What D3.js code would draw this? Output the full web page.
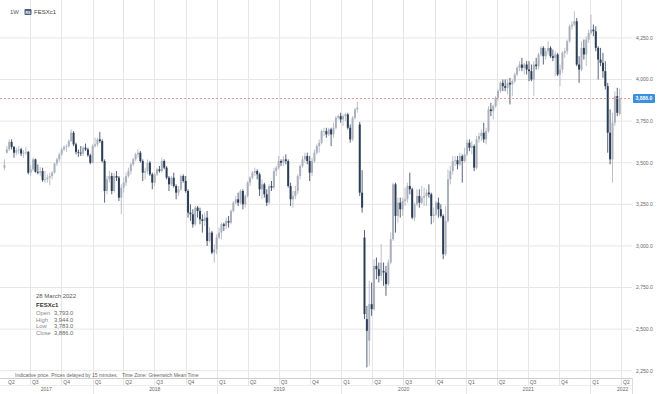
<!DOCTYPE html>
<html>
<head>
<meta charset="utf-8">
<script src="https://cdn.jsdelivr.net/npm/d3@7"></script>
<style>
  body { margin: 0; background: #fff; }
  text { font-family: "Liberation Sans", Arial, sans-serif; }
</style>
</head>
<body>
<div id="chart"></div>
<script>
// weekly candles FESXc1, one row per month (weeks start on Monday, first week 17 Apr 2017)
var opens = [
  3470, 3560,
  3580, 3625, 3595, 3560, 3575,
  3580, 3555, 3560, 3565,
  3440, 3460, 3520, 3445, 3440,
  3450, 3395, 3400, 3410,
  3420, 3440, 3495, 3520,
  3550, 3580, 3595, 3600, 3630,
  3680, 3610, 3565, 3560,
  3555, 3590, 3580, 3545,
  // 2018
  3500, 3600, 3610, 3640, 3630,
  3510, 3330, 3400, 3420,
  3330, 3420, 3410, 3290,
  3350, 3380, 3420, 3450, 3490,
  3520, 3550, 3560, 3510,
  3440, 3450, 3500, 3430,
  3380, 3430, 3460, 3450, 3510,
  3470, 3410, 3370, 3410,
  3360, 3320, 3340, 3420,
  3390, 3330, 3200, 3190, 3130,
  3230, 3210, 3160, 3150,
  3170, 3030, 3080, 2960, 2980,
  // 2019
  3050, 3080, 3130, 3120,
  3150, 3140, 3210, 3260,
  3280, 3260, 3330, 3250,
  3300, 3380, 3410, 3440, 3450,
  3430, 3340, 3370, 3310,
  3260, 3360, 3350, 3450,
  3470, 3510, 3500, 3520, 3510,
  3360, 3280, 3300, 3330,
  3420, 3480, 3520, 3540, 3510,
  3440, 3510, 3560, 3600,
  3620, 3690, 3690, 3670,
  3700, 3670, 3710, 3770, 3780,
  // 2020
  3760, 3780, 3790, 3710,
  3640, 3770, 3820, 3730,
  3320, 3050, 2560, 2430, 2650,
  2620, 2880, 2860, 2820,
  2850, 2840, 2770, 2900,
  3040, 3370, 3180, 3260, 3220,
  3270, 3280, 3360, 3340,
  3170, 3250, 3300, 3260, 3290,
  3300, 3320, 3310, 3180,
  3190, 3260, 3220, 3180,
  2950, 3150, 3400, 3450, 3510,
  3515, 3490, 3540, 3510,
  // 2021
  3550, 3620, 3590, 3600,
  3470, 3640, 3660, 3680,
  3640, 3690, 3820, 3810, 3840,
  3890, 3930, 3980, 3960,
  3950, 3980, 3970, 3990, 4030,
  4070, 4090, 4070, 4090,
  4060, 4050, 4000, 4090,
  4080, 4150, 4190, 4140, 4170,
  4190, 4140, 4130, 4150,
  4030, 4060, 4160, 4170,
  4230, 4320, 4330, 4350, 4090,
  4060, 4190, 4150, 4240,
  // 2022
  4280, 4300, 4290, 4190, 4120,
  4100, 4050, 3960, 3680,
  3520, 3740, 3900, 3793
];
var highs = [
  3520, 3600,
  3640, 3640, 3600, 3590, 3600,
  3590, 3575, 3595, 3570,
  3485, 3530, 3525, 3490, 3475,
  3470, 3450, 3430, 3440,
  3450, 3500, 3530, 3560,
  3590, 3605, 3610, 3640, 3700,
  3690, 3620, 3580, 3600,
  3600, 3615, 3590, 3555,
  // 2018
  3610, 3650, 3650, 3685, 3640,
  3520, 3420, 3450, 3440,
  3440, 3450, 3420, 3370,
  3410, 3440, 3470, 3500, 3530,
  3560, 3580, 3570, 3520,
  3470, 3520, 3510, 3440,
  3440, 3470, 3480, 3530, 3520,
  3480, 3420, 3420, 3440,
  3370, 3360, 3430, 3430,
  3420, 3340, 3250, 3220, 3240,
  3240, 3230, 3190, 3200,
  3210, 3110, 3090, 3010, 3070,
  // 2019
  3110, 3140, 3140, 3170,
  3180, 3220, 3270, 3300,
  3320, 3340, 3340, 3310,
  3390, 3420, 3450, 3470, 3460,
  3440, 3400, 3380, 3340,
  3370, 3390, 3470, 3480,
  3540, 3520, 3540, 3550, 3520,
  3380, 3330, 3360, 3430,
  3490, 3540, 3560, 3560, 3540,
  3530, 3580, 3610, 3640,
  3700, 3710, 3710, 3710,
  3710, 3740, 3780, 3790, 3800,
  // 2020
  3790, 3800, 3800, 3730,
  3780, 3830, 3866, 3745,
  3455, 3095, 2640, 2790, 2780,
  2920, 2930, 2900, 3010,
  2900, 2880, 2920, 3080,
  3380, 3380, 3290, 3290, 3290,
  3350, 3380, 3440, 3350,
  3260, 3340, 3340, 3360, 3350,
  3340, 3370, 3320, 3230,
  3270, 3290, 3250, 3190,
  3240, 3460, 3480, 3540, 3540,
  3540, 3560, 3550, 3590,
  // 2021
  3640, 3640, 3630, 3610,
  3660, 3680, 3700, 3740,
  3710, 3840, 3860, 3850, 3900,
  3940, 3990, 4000, 4000,
  4000, 4010, 4000, 4040, 4080,
  4110, 4130, 4100, 4110,
  4110, 4090, 4110, 4130,
  4160, 4200, 4200, 4190, 4230,
  4200, 4180, 4170, 4160,
  4090, 4170, 4190, 4240,
  4330, 4350, 4410, 4370, 4140,
  4230, 4240, 4260, 4300,
  // 2022
  4390, 4330, 4320, 4200, 4190,
  4160, 4110, 3980, 3820,
  3800, 3930, 3950, 3944
];
var lows = [
  3455, 3555,
  3570, 3580, 3530, 3545, 3550,
  3540, 3530, 3545, 3430,
  3420, 3450, 3440, 3430, 3420,
  3385, 3380, 3380, 3365,
  3400, 3435, 3480, 3505,
  3540, 3570, 3565, 3590, 3625,
  3600, 3550, 3535, 3540,
  3540, 3570, 3535, 3490,
  // 2018
  3495, 3590, 3595, 3620, 3500,
  3260, 3310, 3380, 3310,
  3320, 3390, 3270, 3190,
  3320, 3360, 3410, 3430, 3480,
  3510, 3530, 3500, 3390,
  3400, 3430, 3420, 3340,
  3360, 3420, 3440, 3440, 3460,
  3400, 3330, 3360, 3350,
  3280, 3300, 3330, 3380,
  3320, 3170, 3150, 3110, 3120,
  3170, 3130, 3080, 3120,
  3000, 3020, 2950, 2900, 2950,
  // 2019
  3040, 3040, 3090, 3100,
  3110, 3130, 3200, 3250,
  3240, 3250, 3220, 3230,
  3290, 3360, 3400, 3420, 3400,
  3300, 3280, 3290, 3240,
  3250, 3330, 3340, 3420,
  3460, 3480, 3480, 3490, 3350,
  3240, 3230, 3280, 3310,
  3400, 3470, 3500, 3490, 3390,
  3420, 3500, 3550, 3560,
  3610, 3660, 3650, 3660,
  3600, 3650, 3700, 3760, 3740,
  // 2020
  3720, 3750, 3700, 3620,
  3630, 3760, 3800, 3300,
  3200, 2560, 2270, 2280, 2580,
  2610, 2800, 2780, 2790,
  2760, 2700, 2760, 2890,
  3030, 3080, 3140, 3170, 3180,
  3240, 3260, 3310, 3160,
  3150, 3240, 3230, 3250, 3240,
  3240, 3290, 3130, 3140,
  3180, 3170, 3170, 2920,
  2940, 3140, 3370, 3430, 3480,
  3460, 3480, 3380, 3500,
  // 2021
  3540, 3570, 3550, 3450,
  3460, 3620, 3630, 3620,
  3610, 3680, 3780, 3760, 3830,
  3870, 3920, 3930, 3930,
  3910, 3850, 3900, 3980, 4020,
  4050, 4050, 4030, 4030,
  3990, 3990, 3900, 4060,
  4060, 4140, 4090, 4120, 4150,
  4130, 4110, 4020, 4020,
  3960, 4040, 4130, 4150,
  4220, 4300, 4320, 4080, 3980,
  4050, 4120, 4080, 4220,
  // 2022
  4270, 4260, 4170, 4000, 4080,
  4010, 3940, 3560, 3490,
  3380, 3720, 3780, 3783
];
var closes = [
  3485, 3580,
  3625, 3595, 3560, 3575, 3580,
  3555, 3560, 3565, 3440,
  3460, 3520, 3445, 3440, 3450,
  3395, 3400, 3410, 3420,
  3440, 3495, 3520, 3550,
  3580, 3595, 3600, 3630, 3680,
  3610, 3565, 3560, 3555,
  3590, 3580, 3545, 3500,
  // 2018
  3600, 3610, 3640, 3630, 3510,
  3330, 3400, 3420, 3330,
  3420, 3410, 3290, 3350,
  3380, 3420, 3450, 3490, 3520,
  3550, 3560, 3510, 3440,
  3450, 3500, 3430, 3380,
  3430, 3460, 3450, 3510, 3470,
  3410, 3370, 3410, 3360,
  3320, 3340, 3420, 3390,
  3330, 3200, 3190, 3130, 3230,
  3210, 3160, 3150, 3170,
  3030, 3080, 2960, 2980, 3050,
  // 2019
  3080, 3130, 3120, 3150,
  3140, 3210, 3260, 3280,
  3260, 3330, 3250, 3300,
  3380, 3410, 3440, 3450, 3430,
  3340, 3370, 3310, 3260,
  3360, 3350, 3450, 3470,
  3510, 3500, 3520, 3510, 3360,
  3280, 3300, 3330, 3420,
  3480, 3520, 3540, 3510, 3440,
  3510, 3560, 3600, 3620,
  3690, 3690, 3670, 3700,
  3670, 3710, 3770, 3780, 3760,
  // 2020
  3780, 3790, 3710, 3640,
  3770, 3820, 3830, 3320,
  3230, 2590, 2490, 2650, 2620,
  2880, 2860, 2820, 2900,
  2840, 2770, 2900, 3040,
  3370, 3180, 3260, 3220, 3270,
  3280, 3360, 3340, 3170,
  3250, 3300, 3260, 3290, 3300,
  3320, 3310, 3180, 3190,
  3260, 3220, 3180, 2950,
  3150, 3400, 3450, 3510, 3515,
  3490, 3540, 3510, 3550,
  // 2021
  3620, 3590, 3600, 3470,
  3640, 3660, 3680, 3640,
  3690, 3820, 3810, 3840, 3890,
  3930, 3980, 3960, 3950,
  3980, 3970, 3990, 4030, 4070,
  4090, 4070, 4090, 4060,
  4050, 4000, 4090, 4080,
  4150, 4190, 4140, 4170, 4190,
  4140, 4130, 4150, 4030,
  4060, 4160, 4170, 4230,
  4320, 4330, 4350, 4090, 4060,
  4190, 4150, 4240, 4280,
  // 2022
  4300, 4290, 4190, 4120, 4100,
  4050, 3960, 3680, 3520,
  3740, 3900, 3800, 3886
];

var yTicks = [2250, 2500, 2750, 3000, 3250, 3500, 3750, 4000, 4250];
var lastPrice = 3886;
var infoRows = [["Open", "3,793.0"], ["High", "3,944.0"], ["Low", "3,783.0"], ["Close", "3,886.0"]];

// dimensions
var width = 660, height = 394;
var plotRight = 632, axisTop = 378, yearTop = 385;

var svg = d3.select("#chart").append("svg")
  .attr("width", width)
  .attr("height", height);

var x = d3.scaleUtc()
  .domain([new Date(Date.UTC(2017, 3, 1)), new Date(Date.UTC(2022, 3, 1))])
  .range([-1, 621]);
var y = d3.scaleLinear().domain([2250, 4250]).range([370.7, 37.9]);

var weeks = d3.utcMonday.range(new Date(Date.UTC(2017, 3, 17)), new Date(Date.UTC(2022, 3, 1)));
var candles = weeks.slice(0, closes.length).map(function(d, i) {
  return {date: d, o: opens[i], h: highs[i], l: lows[i], c: closes[i]};
});

// horizontal grid
svg.append("g").selectAll("line").data(yTicks).join("line")
  .attr("x1", 0).attr("x2", plotRight)
  .attr("y1", function(d) { return y(d); }).attr("y2", function(d) { return y(d); })
  .attr("stroke", "#e6e6e6").attr("stroke-width", 1);

// quarter grid (also splits the quarter row of the axis)
var quarters = d3.utcMonth.every(3).range(new Date(Date.UTC(2017, 3, 1)), new Date(Date.UTC(2022, 3, 2)));
svg.append("g").selectAll("line").data(quarters).join("line")
  .attr("x1", function(d) { return Math.round(x(d)) + 0.5; })
  .attr("x2", function(d) { return Math.round(x(d)) + 0.5; })
  .attr("y1", 0).attr("y2", yearTop)
  .attr("stroke", "#e6e6e6");

// axis frame lines
svg.append("line").attr("x1", 0).attr("x2", plotRight).attr("y1", axisTop + 0.5).attr("y2", axisTop + 0.5)
  .attr("stroke", "#cfcfcf");
svg.append("line").attr("x1", 0).attr("x2", plotRight).attr("y1", yearTop + 0.5).attr("y2", yearTop + 0.5)
  .attr("stroke", "#ececec");
svg.append("line").attr("x1", plotRight + 0.5).attr("x2", plotRight + 0.5).attr("y1", axisTop).attr("y2", height)
  .attr("stroke", "#dcdcdc");

// year separators in the bottom row
var years = d3.utcYear.range(new Date(Date.UTC(2018, 0, 1)), new Date(Date.UTC(2022, 0, 2)));
svg.append("g").selectAll("line").data(years).join("line")
  .attr("x1", function(d) { return Math.round(x(d)) + 0.5; })
  .attr("x2", function(d) { return Math.round(x(d)) + 0.5; })
  .attr("y1", yearTop).attr("y2", height)
  .attr("stroke", "#e6e6e6");

// quarter labels
svg.append("g").selectAll("text").data(quarters).join("text")
  .attr("x", function(d) { return x(d) < 5 ? 8 : x(d) + 2; })
  .attr("y", 383.8)
  .attr("font-size", "5px")
  .attr("fill", "#666")
  .text(function(d) { return "Q" + (Math.floor(d.getUTCMonth() / 3) + 1); });

// year labels, centred in the visible part of each year
var yearStarts = d3.utcYear.range(new Date(Date.UTC(2017, 0, 1)), new Date(Date.UTC(2023, 0, 1)));
svg.append("g").selectAll("text").data(yearStarts).join("text")
  .attr("x", function(d) {
    var a = Math.max(0, x(d)), b = Math.min(655, x(d3.utcYear.offset(d, 1)));
    return (a + b) / 2;
  })
  .attr("y", 390.5)
  .attr("text-anchor", "middle")
  .attr("font-size", "5px")
  .attr("fill", "#666")
  .text(function(d) { return d.getUTCFullYear(); });

// y axis labels on the right
svg.append("g").selectAll("text").data(yTicks).join("text")
  .attr("x", 636)
  .attr("y", function(d) { return y(d) + 1.8; })
  .attr("font-size", "5px")
  .attr("fill", "#666")
  .text(function(d) { return d3.format(",.1f")(d); });

// candles
var upColor = "#aab0bc", downColor = "#2c3e57";
var cg = svg.append("g").selectAll("g").data(candles).join("g");
cg.append("line")
  .attr("x1", function(d) { return x(d.date); })
  .attr("x2", function(d) { return x(d.date); })
  .attr("y1", function(d) { return y(d.h); })
  .attr("y2", function(d) { return y(d.l); })
  .attr("stroke", function(d) { return d.c >= d.o ? upColor : downColor; })
  .attr("stroke-width", 0.8);
cg.append("rect")
  .attr("x", function(d) { return x(d.date) - 1; })
  .attr("width", 2)
  .attr("y", function(d) { return y(Math.max(d.o, d.c)); })
  .attr("height", function(d) { return Math.max(0.7, Math.abs(y(d.o) - y(d.c))); })
  .attr("fill", function(d) { return d.c >= d.o ? upColor : downColor; });

// last price line and tag
svg.append("line")
  .attr("x1", 0).attr("x2", plotRight)
  .attr("y1", y(lastPrice)).attr("y2", y(lastPrice))
  .attr("stroke", "#e27b7b").attr("stroke-width", 0.8)
  .attr("stroke-dasharray", "2,2");
svg.append("rect")
  .attr("x", 633).attr("y", y(lastPrice) - 4.5)
  .attr("width", 22).attr("height", 9).attr("rx", 1)
  .attr("fill", "#3b8fde");
svg.append("text")
  .attr("x", 635.5).attr("y", y(lastPrice) + 1.8)
  .attr("font-size", "5px").attr("font-weight", "bold")
  .attr("fill", "#fff")
  .text(d3.format(",.1f")(lastPrice));

// header
svg.append("text").attr("x", 10).attr("y", 14).attr("font-size", "6px").attr("fill", "#555").text("1W");
svg.append("rect").attr("x", 24.5).attr("y", 9).attr("width", 7).attr("height", 6).attr("rx", 1)
  .attr("fill", "#4d5d7e");
svg.append("text").attr("x", 25.6).attr("y", 13.6).attr("font-size", "3.5px").attr("fill", "#fff")
  .attr("font-weight", "bold").text("RS");
svg.append("text").attr("x", 34).attr("y", 14).attr("font-size", "6px").attr("fill", "#444").text("FESXc1");

// info box
var info = svg.append("g").attr("transform", "translate(36, 0)");
info.append("text").attr("y", 297.5).attr("font-size", "6px").attr("fill", "#555").text("28 March 2022");
info.append("text").attr("y", 306.5).attr("font-size", "6px").attr("font-weight", "bold").attr("fill", "#333")
  .text("FESXc1");
infoRows.forEach(function(r, i) {
  info.append("text").attr("y", 315 + i * 6.5).attr("font-size", "5.8px").attr("fill", "#888").text(r[0]);
  info.append("text").attr("x", 18).attr("y", 315 + i * 6.5).attr("font-size", "5.8px").attr("fill", "#666")
    .text(r[1]);
});

// footnote
svg.append("text").attr("x", 15).attr("y", 376.5).attr("font-size", "5px").attr("fill", "#666")
  .attr("xml:space", "preserve")
  .text("Indicative price. Prices delayed by 15 minutes.   Time Zone: Greenwich Mean Time");
</script>
</body>
</html>
